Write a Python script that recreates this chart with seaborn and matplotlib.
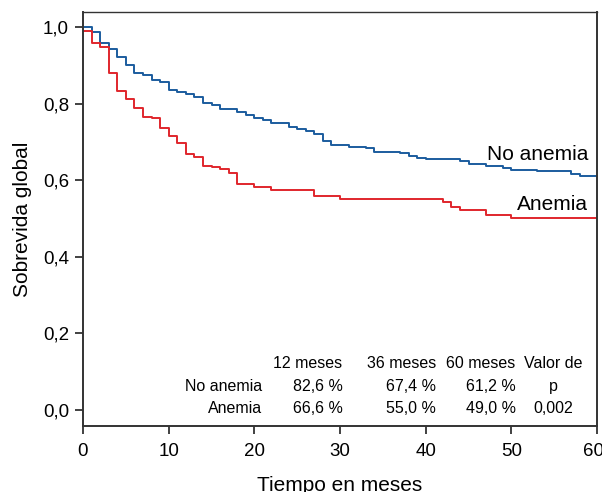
import pandas as pd
import matplotlib
matplotlib.use('Agg')
import matplotlib.pyplot as plt
import matplotlib.transforms as mtransforms
import seaborn as sns
from matplotlib.ticker import FuncFormatter

# Kaplan-Meier steps (time in months, survival after the step)
t_no_anemia = [0, 1, 2, 3, 4, 5, 6, 7, 8, 9, 10, 11, 12, 13, 14, 15, 16, 18, 19, 20,
               21, 22, 24, 25, 26, 27, 28, 29, 31, 33, 34, 37, 38, 39, 40, 44, 45,
               47, 49, 50, 53, 57, 58]
s_no_anemia = [0.999, 0.988, 0.958, 0.942, 0.922, 0.900, 0.879, 0.875, 0.861, 0.856,
               0.836, 0.830, 0.824, 0.816, 0.801, 0.796, 0.785, 0.778, 0.769, 0.761,
               0.757, 0.749, 0.740, 0.733, 0.728, 0.720, 0.702, 0.692, 0.687, 0.683,
               0.674, 0.670, 0.663, 0.659, 0.656, 0.649, 0.643, 0.637, 0.632, 0.626,
               0.623, 0.617, 0.612]

t_anemia = [0, 1, 2, 3, 4, 5, 6, 7, 8, 9, 10, 11, 12, 13, 14, 15, 16, 17, 18, 20, 22,
            27, 30, 42, 43, 44, 47, 50]
s_anemia = [0.990, 0.958, 0.947, 0.879, 0.833, 0.811, 0.789, 0.765, 0.761, 0.737,
            0.715, 0.698, 0.667, 0.661, 0.638, 0.634, 0.628, 0.619, 0.590, 0.582,
            0.575, 0.558, 0.551, 0.542, 0.530, 0.523, 0.510, 0.500]

groups = ['No anemia', 'Anemia']
colors = ['#1b5c9e', '#e0262c']

# table at the bottom
table_header = ['12 meses', '36 meses', '60 meses', 'Valor de']
table_no_anemia = ['82,6 %', '67,4 %', '61,2 %', 'p']
table_anemia = ['66,6 %', '55,0 %', '49,0 %', '0,002']

end_time = 60

sns.set_style('white')
plt.rcParams['font.family'] = ['Liberation Sans', 'DejaVu Sans']
plt.rcParams['text.color'] = 'black'
plt.rcParams['axes.labelcolor'] = 'black'
plt.rcParams['xtick.labelcolor'] = 'black'
plt.rcParams['ytick.labelcolor'] = 'black'

frames = []
for name, t, s in [('No anemia', t_no_anemia, s_no_anemia), ('Anemia', t_anemia, s_anemia)]:
    # carry the last value to the end of follow-up
    frames.append(pd.DataFrame({'tiempo': t + [end_time], 'surv': s + [s[-1]], 'grupo': name}))
df = pd.concat(frames, ignore_index=True)

fig = plt.figure(figsize=(6.02, 4.92), dpi=100)
ax = fig.add_axes([83 / 602, 1 - 426 / 492, (597 - 83) / 602, (426 - 12) / 492])

sns.lineplot(data=df, x='tiempo', y='surv', hue='grupo', hue_order=groups,
             palette=colors, drawstyle='steps-post', linewidth=1.4,
             estimator=None, legend=False, ax=ax)

ax.set_xlim(0, 60)
ax.set_ylim(-0.042, 1.039)
ax.set_xticks(range(0, 61, 10))
ax.set_yticks([0, 0.2, 0.4, 0.6, 0.8, 1.0])
ax.yaxis.set_major_formatter(FuncFormatter(lambda v, p: f'{v:.1f}'.replace('.', ',')))

for side in ['left', 'bottom', 'right', 'top']:
    ax.spines[side].set_visible(True)
    ax.spines[side].set_color('#333333')
    ax.spines[side].set_linewidth(1.4)
ax.spines['top'].set_linewidth(1.0)

ax.tick_params(axis='both', which='major', direction='out', length=6, width=1.3,
               color='#333333', labelcolor='black', labelsize=13.5, bottom=True, left=True)
ax.tick_params(axis='x', pad=6)
ax.tick_params(axis='y', pad=4)

# the last x tick label sits at the figure edge, nudge it left a little
last = ax.get_xticklabels()[-1]
last.set_transform(last.get_transform() + mtransforms.ScaledTranslation(-4 / 100, 0, fig.dpi_scale_trans))

ax.set_xlabel('Tiempo en meses', fontsize=15, labelpad=12)
ax.set_ylabel('Sobrevida global', fontsize=15, labelpad=8)

# curve labels
ax.text(59.0, 0.667, 'No anemia', fontsize=15, ha='right', va='center')
ax.text(59.0, 0.536, 'Anemia', fontsize=15, ha='right', va='center')

# survival table
row_y = [0.121, 0.060, 0.003]
ax.text(20.9, row_y[1], 'No anemia', fontsize=11.5, ha='right', va='center')
ax.text(20.9, row_y[2], 'Anemia', fontsize=11.5, ha='right', va='center')
col_x = [30.3, 41.2, 50.5]
for i, cx in enumerate(col_x):
    ax.text(cx, row_y[0], table_header[i], fontsize=11.5, ha='right', va='center')
    ax.text(cx, row_y[1], table_no_anemia[i], fontsize=11.5, ha='right', va='center')
    ax.text(cx, row_y[2], table_anemia[i], fontsize=11.5, ha='right', va='center')
ax.text(54.85, row_y[0], table_header[3], fontsize=11.5, ha='center', va='center')
ax.text(54.85, row_y[1], table_no_anemia[3], fontsize=11.5, ha='center', va='center')
ax.text(54.85, row_y[2], table_anemia[3], fontsize=11.5, ha='center', va='center')

fig.savefig('out.png', dpi=100)
